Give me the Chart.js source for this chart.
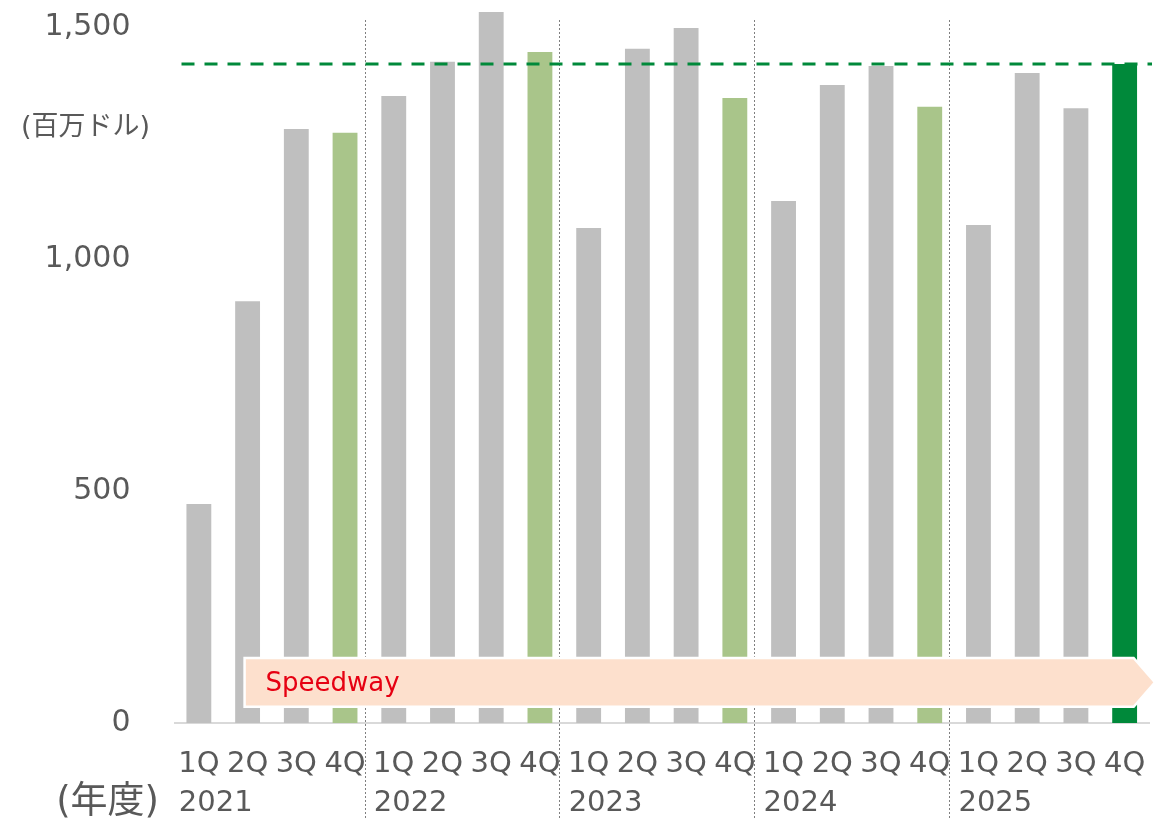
<!DOCTYPE html>
<html>
<head>
<meta charset="utf-8">
<script src="https://cdn.jsdelivr.net/npm/chart.js"></script>
<style>
  html, body { margin: 0; padding: 0; background: #fff; }
  #wrap { width: 1166px; height: 829px; position: relative; }
</style>
</head>
<body>
<div id="wrap"><canvas id="profitChart"></canvas></div>
<script>
// data
const quarters = ['1Q', '2Q', '3Q', '4Q'];
const years = ['2021', '2022', '2023', '2024', '2025'];
const values = [472, 909, 1280, 1272, 1351, 1425, 1532, 1446, 1067, 1453, 1498, 1347, 1125, 1375, 1416, 1328, 1073, 1401, 1325, 1420];
const yTicks = [0, 500, 1000, 1500];
const targetLine = 1420;
const bandRange = [35, 140]; // Speedway arrow, y units
const yMax = 1543;

const labels = [];
years.forEach(() => quarters.forEach(q => labels.push(q)));
const barColors = values.map((v, i) => {
  if (i === values.length - 1) return '#00893A';
  if (i % 4 === 3) return '#A9C58A';
  return '#BFBFBF';
});

const textColor = '#595959';
const latin = '"DejaVu Sans"';
const jp = '"Noto Sans CJK JP"';

const overlay = {
  id: 'overlay',
  afterDatasetsDraw(chart) {
    const { ctx, chartArea, scales: { x, y } } = chart;
    ctx.save();

    // year separators
    ctx.strokeStyle = '#7F7F7F';
    ctx.lineWidth = 1;
    ctx.setLineDash([2, 2]);
    for (let g = 1; g < years.length; g++) {
      const px = Math.round(x.getPixelForValue(g * 4 - 0.6)) + 0.5;
      ctx.beginPath();
      ctx.moveTo(px, 20);
      ctx.lineTo(px, 820);
      ctx.stroke();
    }

    // dashed reference line
    ctx.strokeStyle = '#00893A';
    ctx.lineWidth = 3;
    ctx.setLineDash([13, 10]);
    const ly = y.getPixelForValue(targetLine);
    ctx.beginPath();
    ctx.moveTo(chartArea.left + 7, ly);
    ctx.lineTo(chartArea.right + 3, ly);
    ctx.stroke();

    // Speedway arrow
    ctx.setLineDash([]);
    const top = y.getPixelForValue(bandRange[1]);
    const bot = y.getPixelForValue(bandRange[0]);
    const x0 = x.getPixelForValue(1) - 3;
    const x1 = x.getPixelForValue(values.length - 1) + 9;
    const tip = chartArea.right + 6;
    ctx.beginPath();
    ctx.moveTo(x0, top);
    ctx.lineTo(x1, top);
    ctx.lineTo(tip, (top + bot) / 2);
    ctx.lineTo(x1, bot);
    ctx.lineTo(x0, bot);
    ctx.closePath();
    ctx.fillStyle = '#FDE0CD';
    ctx.fill();
    ctx.strokeStyle = '#FFFFFF';
    ctx.lineWidth = 2.5;
    ctx.stroke();
    ctx.fillStyle = '#E60012';
    ctx.font = '26px ' + latin;
    ctx.textBaseline = 'middle';
    ctx.textAlign = 'left';
    ctx.fillText('Speedway', x0 + 21, (top + bot) / 2 + 2);

    // year labels
    ctx.fillStyle = textColor;
    ctx.font = '29px ' + latin;
    years.forEach((yr, g) => {
      ctx.fillText(yr, x.getPixelForValue(g * 4) - 20, 803);
    });

    // axis titles
    ctx.font = '37px ' + latin + ', ' + jp;
    ctx.textAlign = 'right';
    ctx.fillText('(年度)', 159, 803);
    ctx.font = '27px ' + latin + ', ' + jp;
    ctx.textAlign = 'left';
    ctx.fillText('(百万ドル)', 21, 128);

    ctx.restore();
  }
};

new Chart(document.getElementById('profitChart'), {
  type: 'bar',
  data: {
    labels: labels,
    datasets: [{
      data: values,
      backgroundColor: barColors,
      barPercentage: 0.51,
      categoryPercentage: 1
    }]
  },
  options: {
    responsive: true,
    maintainAspectRatio: false,
    animation: false,
    layout: { padding: { top: 7, right: 17, left: 0, bottom: 0 } },
    plugins: {
      legend: { display: false },
      tooltip: { enabled: false }
    },
    scales: {
      x: {
        grid: { display: true, drawOnChartArea: false, drawTicks: false },
        border: { color: '#D9D9D9', width: 2 },
        ticks: {
          color: textColor,
          font: { family: 'DejaVu Sans', size: 29 },
          padding: 24,
          maxRotation: 0,
          autoSkip: false
        },
        afterFit(s) {
          s.height = 106;
          s.paddingLeft = 0;
          s.paddingRight = 0;
        }
      },
      y: {
        min: 0,
        max: yMax,
        afterBuildTicks(s) { s.ticks = yTicks.map(v => ({ value: v })); },
        grid: { display: false, drawTicks: false },
        border: { display: false },
        ticks: {
          color: textColor,
          font: { family: 'DejaVu Sans', size: 30 },
          padding: 44,
          callback: v => v.toLocaleString('en-US')
        },
        afterFit(s) {
          s.width = 174.5;
          s.paddingTop = 0;
          s.paddingBottom = 0;
        }
      }
    }
  },
  plugins: [overlay]
});
</script>
</body>
</html>
